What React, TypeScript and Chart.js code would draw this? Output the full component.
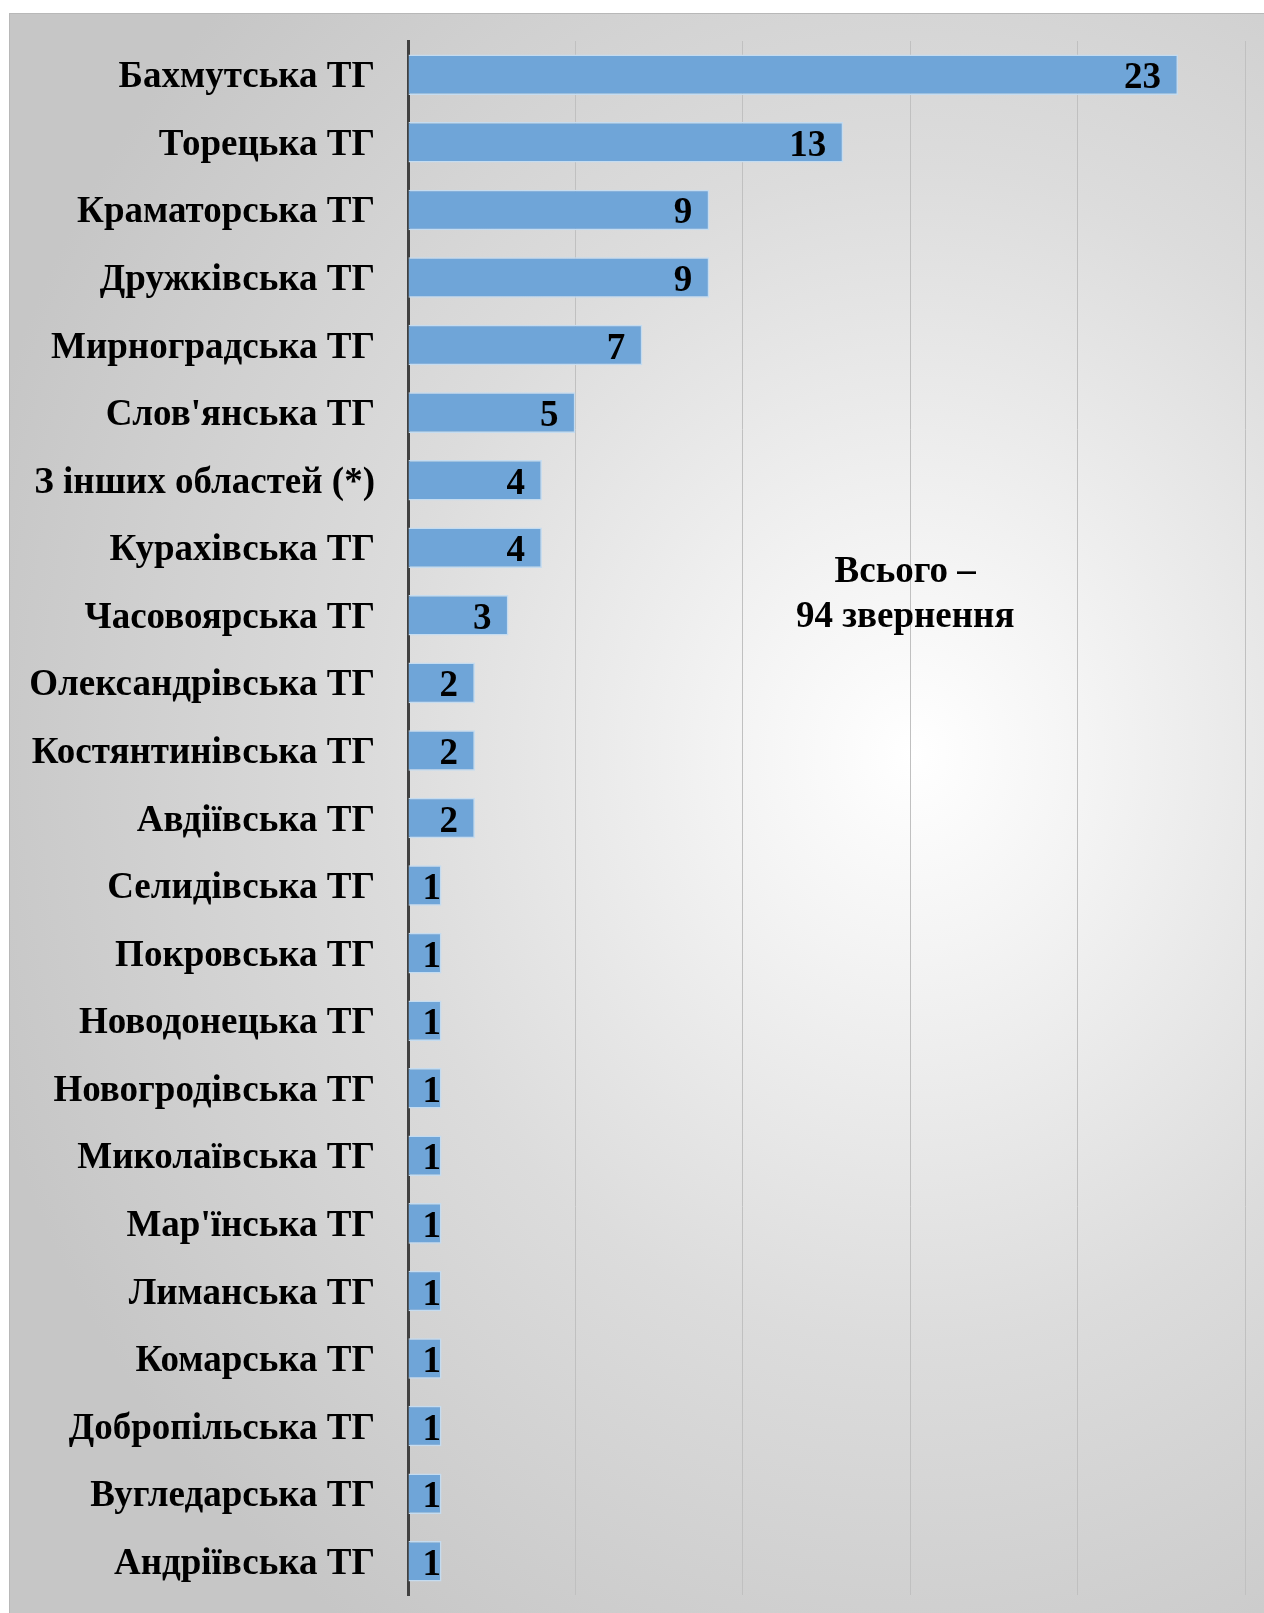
import React, { useEffect, useRef } from "react";
import { Chart, registerables } from "chart.js";

Chart.register(...registerables);

const categories: string[] = [
  "Бахмутська ТГ",
  "Торецька ТГ",
  "Краматорська ТГ",
  "Дружківська ТГ",
  "Мирноградська ТГ",
  "Слов'янська ТГ",
  "З інших областей (*)",
  "Курахівська ТГ",
  "Часовоярська ТГ",
  "Олександрівська ТГ",
  "Костянтинівська ТГ",
  "Авдіївська ТГ",
  "Селидівська ТГ",
  "Покровська ТГ",
  "Новодонецька ТГ",
  "Новогродівська ТГ",
  "Миколаївська ТГ",
  "Мар'їнська ТГ",
  "Лиманська ТГ",
  "Комарська ТГ",
  "Добропільська ТГ",
  "Вугледарська ТГ",
  "Андріївська ТГ",
];

const values: number[] = [23, 13, 9, 9, 7, 5, 4, 4, 3, 2, 2, 2, 1, 1, 1, 1, 1, 1, 1, 1, 1, 1, 1];

const totalLines: string[] = ["Всього –", "94 звернення"];

const FONT = "'Liberation Serif', 'Times New Roman', serif";
const W = 1291;
const H = 1647;

export default function App() {
  const ref = useRef<HTMLCanvasElement | null>(null);

  useEffect(() => {
    if (!ref.current) return;
    const labelPlugin = {
      id: "valueLabels",
      afterDatasetsDraw(chart: any) {
        const ctx = chart.ctx;
        const meta = chart.getDatasetMeta(0);
        ctx.save();
        ctx.font = `bold 37px ${FONT}`;
        ctx.fillStyle = "#000";
        ctx.textAlign = "right";
        ctx.textBaseline = "middle";
        meta.data.forEach((bar: any, i: number) => {
          const txt = String(values[i]);
          const w = ctx.measureText(txt).width;
          const x = Math.max(bar.x - 17, bar.base + w + 14);
          ctx.fillText(txt, x, bar.y + 4);
        });
        const xs = chart.scales.x;
        const ys = chart.scales.y;
        const cx = xs.getPixelForValue(14.85);
        const cy = ys.getPixelForValue(7.36);
        ctx.textAlign = "center";
        ctx.font = `bold 37px ${FONT}`;
        ctx.fillText(totalLines[0], cx, cy);
        ctx.fillText(totalLines[1], cx, cy + 45);
        ctx.restore();
      },
    };

    const chart = new Chart(ref.current, {
      type: "bar",
      data: {
        labels: categories,
        datasets: [
          {
            data: values,
            backgroundColor: "#6fa5d8",
            borderColor: "#c5dcf0",
            borderWidth: 1.5,
            barPercentage: 0.6,
            categoryPercentage: 1,
          },
        ],
      },
      options: {
        indexAxis: "y",
        animation: false,
        responsive: false,
        maintainAspectRatio: false,
        layout: { padding: { top: 28, right: 55, bottom: 65, left: 0 } },
        plugins: {
          legend: { display: false },
          tooltip: { enabled: false },
        },
        scales: {
          x: {
            min: 0,
            max: 25,
            ticks: { display: false, stepSize: 5 },
            grid: { color: "#c0c0c0", lineWidth: 1, drawTicks: false },
            border: { display: false },
            afterFit: (s: any) => {
              s.height = 0;
              s.paddingLeft = 0;
              s.paddingRight = 0;
              s.paddingTop = 0;
              s.paddingBottom = 0;
            },
          },
          y: {
            ticks: {
              color: "#000",
              font: { family: FONT, size: 37, weight: "bold" },
              padding: 33,
              labelOffset: 3,
              autoSkip: false,
            },
            grid: { display: false, drawTicks: false },
            border: { display: true, color: "#404040", width: 3 },
            afterFit: (s: any) => {
              s.width = 399;
              s.paddingTop = 0;
              s.paddingBottom = 0;
              s.paddingLeft = 0;
              s.paddingRight = 0;
            },
          },
        },
      },
      plugins: [labelPlugin],
    });
    return () => chart.destroy();
  }, []);

  return (
    <div
      style={{
        position: "absolute",
        left: 9,
        top: 13,
        width: W,
        height: H,
        background:
          "radial-gradient(ellipse 75% 65% at 70% 45%, #ffffff 0%, #f4f4f4 18%, #dcdcdc 55%, #c6c6c6 100%)",
        overflow: "hidden",
      }}
    >
      <div style={{ position: "absolute", left: 0, top: 0, right: 0, height: 1, background: "#b8b8b8" }} />
      <div style={{ position: "absolute", left: 0, top: 0, bottom: 0, width: 1, background: "#b8b8b8" }} />
      <canvas ref={ref} width={W} height={H} style={{ display: "block", position: "absolute", left: 0, top: 0 }} />
    </div>
  );
}
